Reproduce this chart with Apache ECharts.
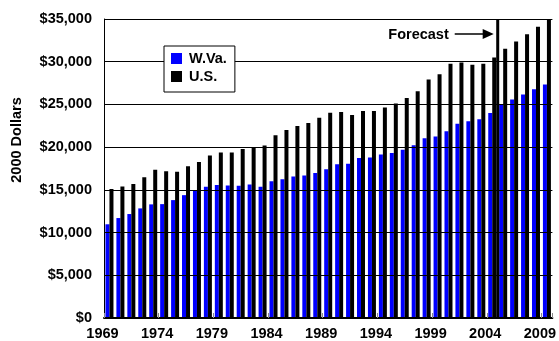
<!DOCTYPE html>
<html>
<head>
<meta charset="utf-8">
<style>
  html, body { margin: 0; padding: 0; background: #fff; }
  #chart { width: 559px; height: 341px; }
</style>
<script src="https://cdn.jsdelivr.net/npm/echarts@6/dist/echarts.min.js"></script>
</head>
<body>
<div id="chart"></div>
<script>
// Per capita personal income, constant 2000 dollars
const years = [];
for (let y = 1969; y <= 2009; y++) years.push(String(y));

const wvaIncome = [
  10970, 11700, 12170, 12830, 13300, 13330, 13800, 14380, 14880, 15350,
  15580, 15500, 15470, 15620, 15350, 16010, 16240, 16550, 16670, 16960,
  17420, 17990, 18060, 18720, 18800, 19150, 19300, 19690, 20230, 21050,
  21240, 21860, 22750, 23020, 23260, 23990, 24960, 25580, 26160, 26780,
  27330
];
const usIncome = [
  15110, 15390, 15700, 16490, 17360, 17170, 17110, 17750, 18260, 19030,
  19380, 19380, 19770, 19960, 20190, 21400, 22000, 22480, 22830, 23450,
  24030, 24110, 23760, 24220, 24220, 24650, 25120, 25740, 26550, 27910,
  28530, 29770, 29920, 29650, 29770, 30500, 31510, 32360, 33220, 34100,
  35000
];
const yTicks = [0, 5000, 10000, 15000, 20000, 25000, 30000, 35000];
const firstForecastYear = '2005';

const FONT = 'Liberation Sans, Arial, sans-serif';
const chart = echarts.init(document.getElementById('chart'), null, { renderer: 'canvas' });

chart.setOption({
  animation: false,
  backgroundColor: '#ffffff',
  grid: { left: 104, right: 2, top: 19, bottom: 21, containLabel: false },
  legend: {
    data: ['W.Va.', 'U.S.'],
    orient: 'vertical',
    left: 164,
    top: 46,
    padding: [5, 8, 8, 7],
    itemGap: 3,
    itemWidth: 11,
    itemHeight: 11,
    icon: 'rect',
    borderColor: '#000',
    borderWidth: 1,
    backgroundColor: '#fff',
    selectedMode: false,
    textStyle: { fontFamily: FONT, fontWeight: 'bold', fontSize: 14.5, color: '#000', padding: [0, 0, 0, 2] }
  },
  xAxis: {
    type: 'category',
    data: years,
    boundaryGap: true,
    z: 3,
    axisLine: { show: true, lineStyle: { color: '#000', width: 2 } },
    axisTick: { show: true, inside: true, interval: 4, length: 5, lineStyle: { color: '#888', width: 1 } },
    axisLabel: {
      interval: 4,
      margin: 8,
      padding: [0, 14, 0, 0],
      fontFamily: FONT, fontWeight: 'bold', fontSize: 14.5, color: '#000'
    },
    splitLine: { show: false }
  },
  yAxis: {
    type: 'value',
    min: yTicks[0],
    max: yTicks[yTicks.length - 1],
    interval: yTicks[1] - yTicks[0],
    z: 3,
    axisLine: { show: true, lineStyle: { color: '#000', width: 1 } },
    axisTick: { show: false },
    splitLine: { show: true, lineStyle: { color: '#000', width: 1 } },
    axisLabel: {
      margin: 12,
      fontFamily: FONT, fontWeight: 'bold', fontSize: 14.5, color: '#000',
      formatter: v => '$' + v.toLocaleString('en-US')
    }
  },
  series: [
    {
      name: 'W.Va.', type: 'bar', data: wvaIncome,
      barWidth: 4, barGap: '0%', silent: true,
      itemStyle: { color: '#0000FF' }
    },
    {
      name: 'U.S.', type: 'bar', data: usIncome,
      barWidth: 4, barGap: '0%', silent: true,
      itemStyle: { color: '#000000' }
    }
  ]
});

// Forecast divider at the boundary before the first forecast year
const idx = years.indexOf(firstForecastYear);
const xA = chart.convertToPixel({ xAxisIndex: 0 }, years[idx - 1]);
const xB = chart.convertToPixel({ xAxisIndex: 0 }, years[idx]);
const lineX = (xA + xB) / 2;
const yTop = chart.convertToPixel({ yAxisIndex: 0 }, yTicks[yTicks.length - 1]);
const yBottom = chart.convertToPixel({ yAxisIndex: 0 }, yTicks[0]);
const tipX = lineX - 4;
const arrowY = 34;

chart.setOption({
  graphic: [
    {
      type: 'line', z: 100,
      shape: { x1: lineX, y1: yTop, x2: lineX, y2: yBottom },
      style: { stroke: '#000', lineWidth: 3 }
    },
    {
      type: 'line', z: 100,
      shape: { x1: tipX - 39, y1: arrowY, x2: tipX - 8, y2: arrowY },
      style: { stroke: '#000', lineWidth: 1.5 }
    },
    {
      type: 'polygon', z: 100,
      shape: { points: [[tipX, arrowY], [tipX - 11, arrowY - 5], [tipX - 11, arrowY + 5]] },
      style: { fill: '#000' }
    },
    {
      type: 'text', z: 100,
      x: tipX - 45, y: arrowY + 1,
      style: {
        text: 'Forecast', textAlign: 'right', textVerticalAlign: 'middle',
        font: 'bold 14.5px ' + FONT, fill: '#000'
      }
    },
    {
      type: 'text', z: 100,
      x: 17, y: 140, rotation: Math.PI / 2,
      style: {
        text: '2000 Dollars', textAlign: 'center', textVerticalAlign: 'middle',
        font: 'bold 14.5px ' + FONT, fill: '#000'
      }
    }
  ]
});
</script>
</body>
</html>
